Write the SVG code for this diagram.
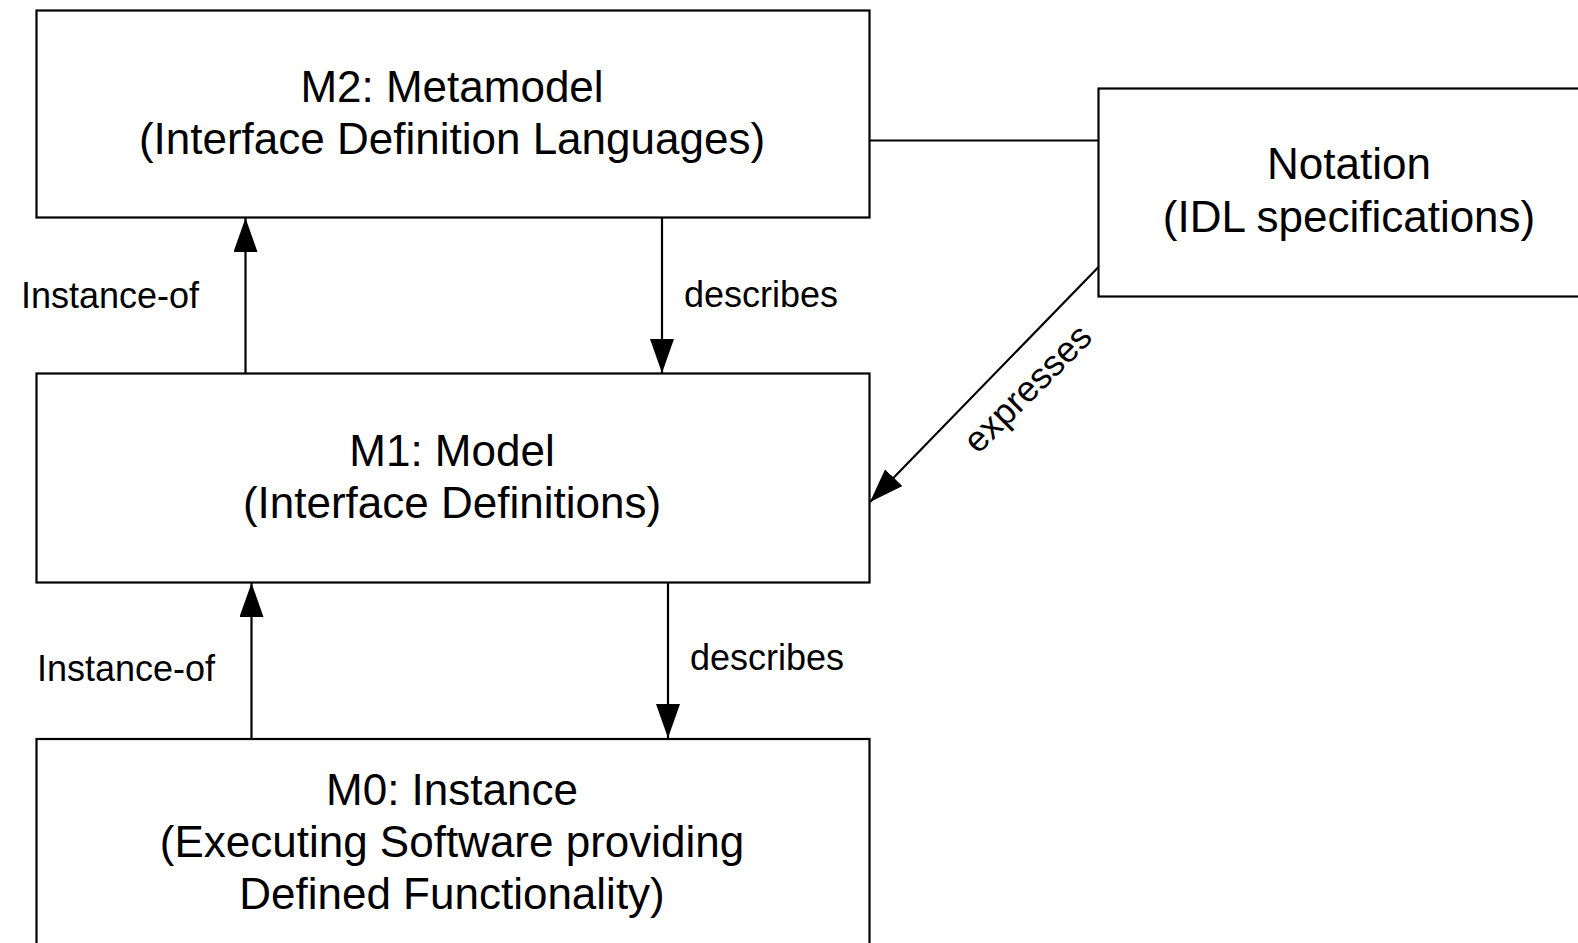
<svg xmlns="http://www.w3.org/2000/svg" width="1578" height="943" viewBox="0 0 1578 943">
<style>
.box{fill:#ffffff;stroke:#000000;stroke-width:2.2}
.t{font-family:"Liberation Sans",Arial,sans-serif;font-size:44px;fill:#000000;text-anchor:middle}
.lbl{font-family:"Liberation Sans",Arial,sans-serif;font-size:36px;fill:#000000}
.edge{fill:none;stroke:#000000;stroke-width:2.2}
</style>
<defs>
<marker id="arr" markerUnits="userSpaceOnUse" markerWidth="36" markerHeight="26" refX="34" refY="12" orient="auto">
<path d="M0,0 L34,12 L0,24 z" fill="#000000"/>
</marker>
</defs>
<rect width="1578" height="943" fill="#ffffff"/>
<g id="connectors">
<line class="edge" x1="869.5" y1="140.5" x2="1098.5" y2="140.5"/>
<line class="edge" x1="245.5" y1="373.5" x2="245.5" y2="218" marker-end="url(#arr)"/>
<line class="edge" x1="662" y1="218" x2="662" y2="373" marker-end="url(#arr)"/>
<line class="edge" x1="251.5" y1="739" x2="251.5" y2="583" marker-end="url(#arr)"/>
<line class="edge" x1="668" y1="583" x2="668" y2="738" marker-end="url(#arr)"/>
<line class="edge" x1="1098.5" y1="267" x2="870" y2="502" marker-end="url(#arr)"/>
<text class="lbl" x="21" y="308">Instance-of</text>
<text class="lbl" x="684" y="307">describes</text>
<text class="lbl" x="37" y="681">Instance-of</text>
<text class="lbl" x="690" y="670">describes</text>
<text class="lbl" text-anchor="middle" transform="translate(1029,390) rotate(-45)" x="0" y="10">expresses</text>
</g>
<g id="m2">
<rect class="box" x="36.5" y="10.5" width="833" height="207"/>
<text class="t" x="452" y="102">M2: Metamodel</text>
<text class="t" x="452" y="154">(Interface Definition Languages)</text>
</g>
<g id="m1">
<rect class="box" x="36.5" y="373.5" width="833" height="209"/>
<text class="t" x="452" y="466">M1: Model</text>
<text class="t" x="452" y="518">(Interface Definitions)</text>
</g>
<g id="m0">
<rect class="box" x="36.5" y="739" width="833" height="230"/>
<text class="t" x="452" y="805">M0: Instance</text>
<text class="t" x="452" y="857">(Executing Software providing</text>
<text class="t" x="452" y="909">Defined Functionality)</text>
</g>
<g id="notation">
<rect class="box" x="1098.5" y="88.5" width="503" height="208"/>
<text class="t" x="1349" y="179">Notation</text>
<text class="t" x="1349" y="232">(IDL specifications)</text>
</g>
</svg>
